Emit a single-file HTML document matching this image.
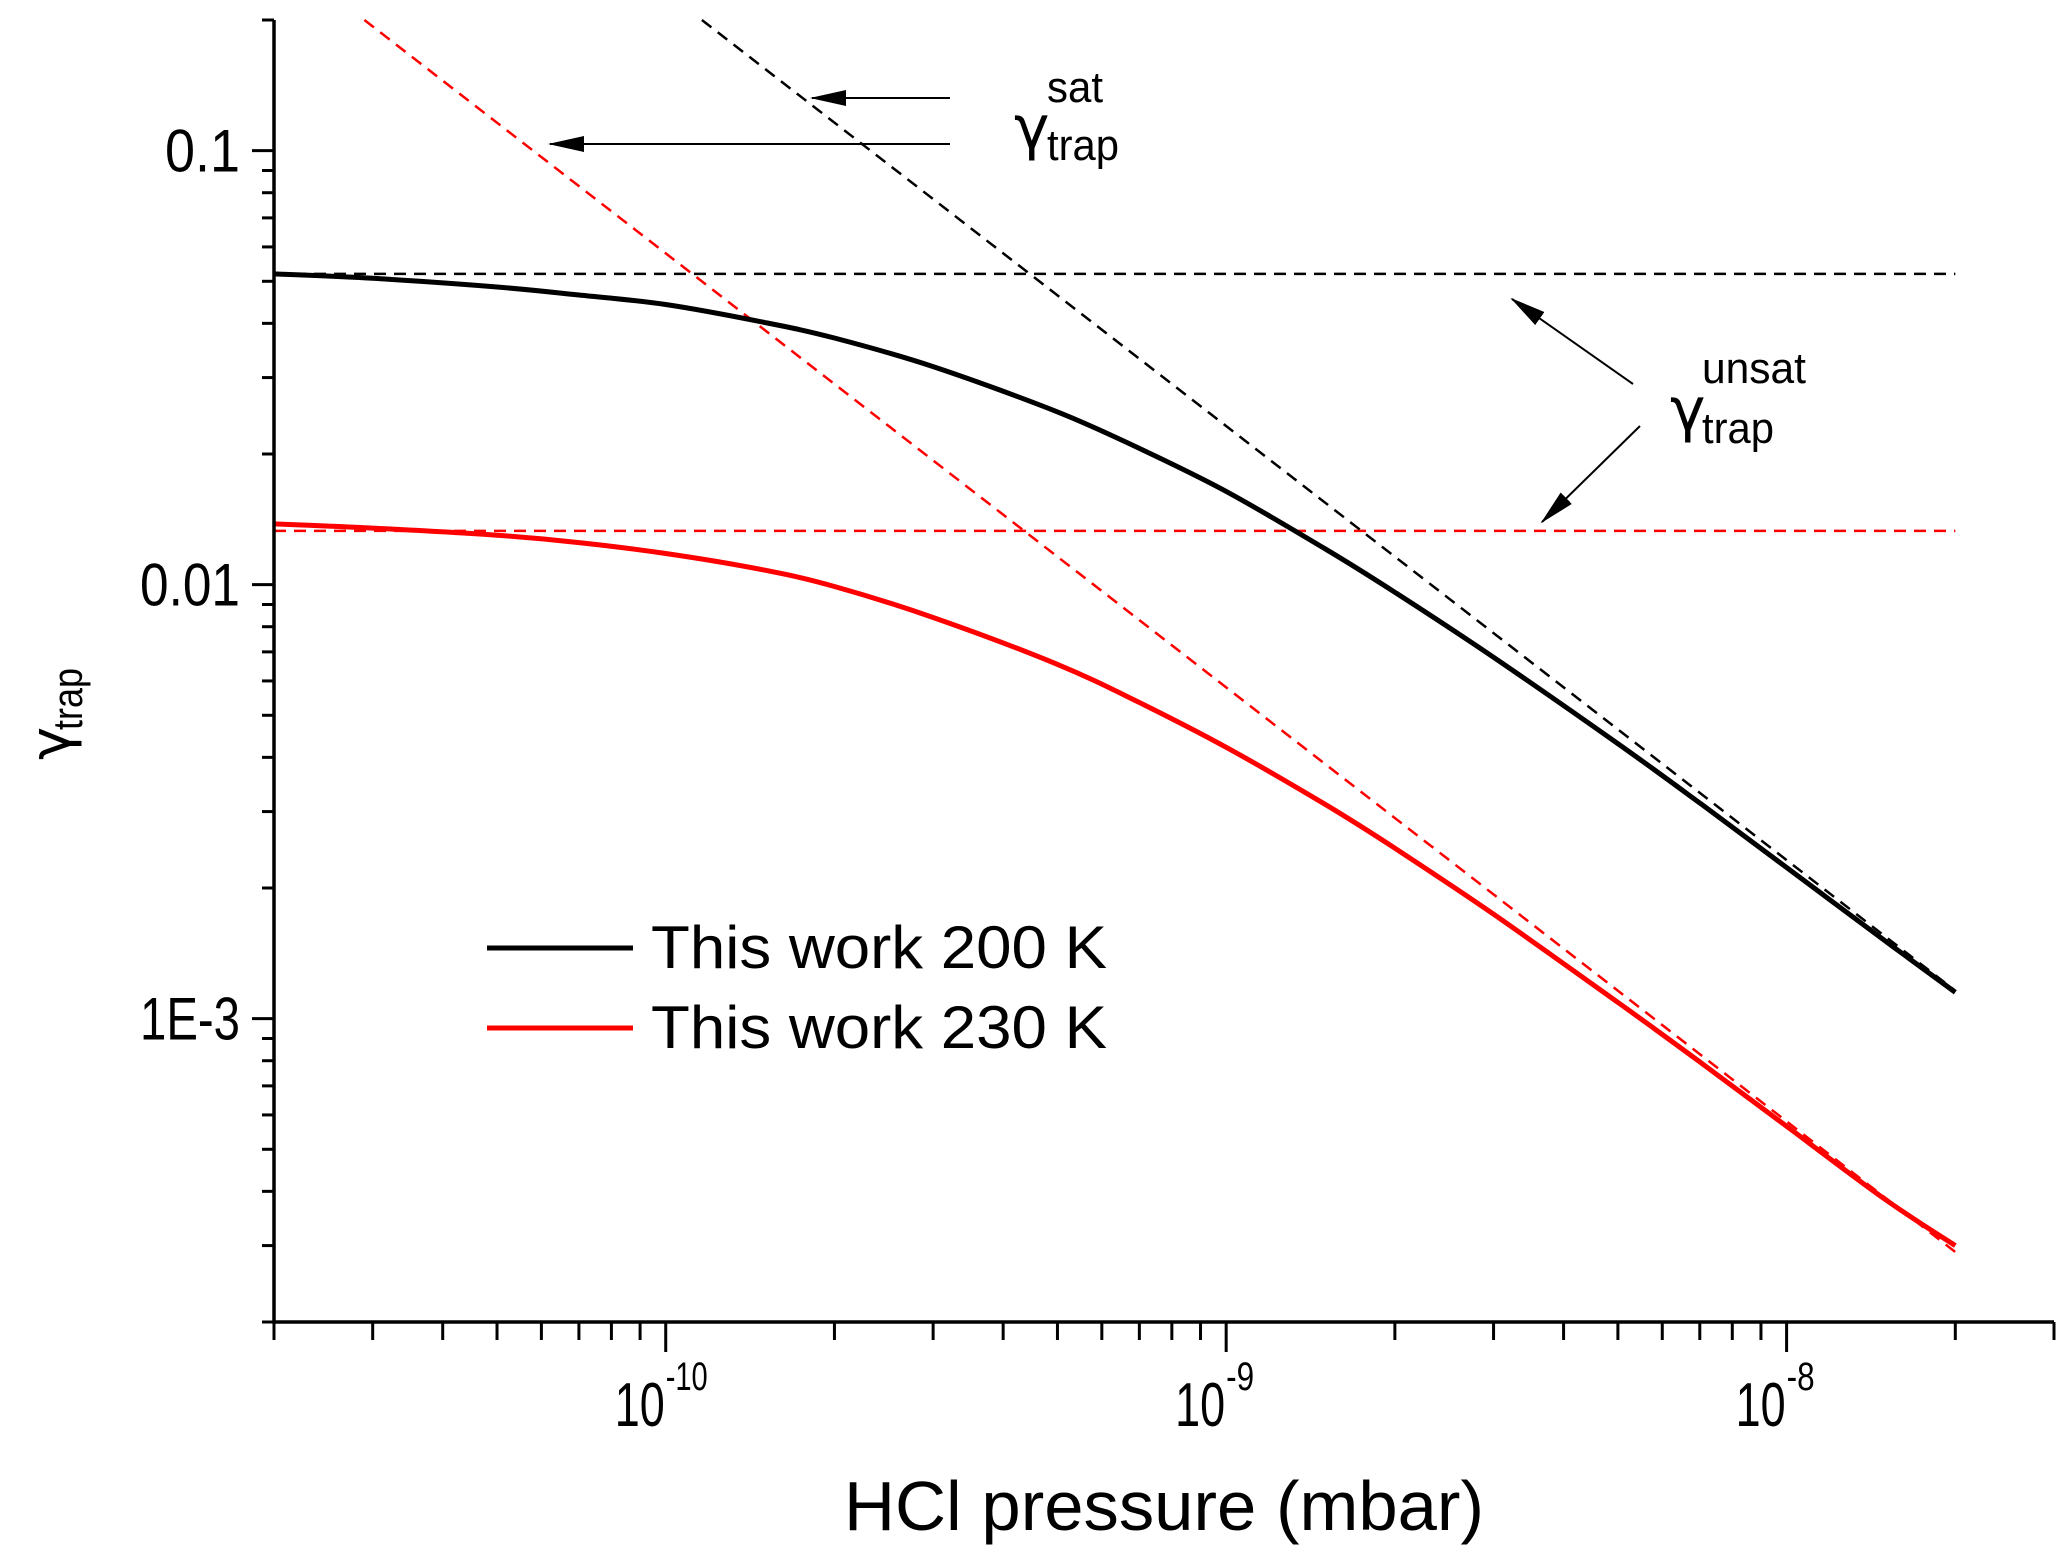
<!DOCTYPE html>
<html><head><meta charset="utf-8"><style>
html,body{margin:0;padding:0;background:#fff;}
svg{display:block;font-family:"Liberation Sans",Arial,sans-serif;}
</style></head><body>
<svg id="chart" width="2067" height="1564" viewBox="0 0 2067 1564" xmlns="http://www.w3.org/2000/svg">
<defs>
<marker id="ah2" markerWidth="36" markerHeight="16" refX="34" refY="8" orient="auto" markerUnits="userSpaceOnUse"><path d="M0,0 L36,8 L0,16 z" fill="#000"/></marker>
</defs>
<g id="plot"></g>
</svg>
<script>
const pressures = [2e-11,3e-11,5e-11,7e-11,1e-10,1.5e-10,2e-10,3e-10,5e-10,7e-10,1e-9,1.5e-9,2e-9,3e-9,5e-9,7e-9,1e-8,1.5e-8,2e-8];
const gamma200 = [0.0520,0.0508,0.0485,0.0465,0.0442,0.0402,0.0370,0.0318,0.0250,0.0206,0.0164,0.0121,0.00960,0.00680,0.00430,0.00314,0.00223,0.00151,0.00115];
const gamma230 = [0.0138,0.0135,0.0130,0.0125,0.0118,0.0108,0.00990,0.00840,0.00655,0.00535,0.00422,0.00312,0.00247,0.00174,0.00109,0.000795,0.000565,0.000383,0.000300];
const unsat200 = [0.052, 0.052];
const unsat230 = [0.0133, 0.0133];
const unsatX = [2e-11, 2e-8];
const satX200 = [1.16e-10, 2e-8];
const sat200 = [0.2, 0.00116];
const satX230 = [2.9e-11, 2e-8];
const sat230 = [0.2, 0.00029];
const xTickLabels = ["-10","-9","-8"];
const xTickValues = [1e-10,1e-9,1e-8];
const yTickLabels = ["0.1","0.01","1E-3"];
const yTickValues = [0.1,0.01,0.001];

const L=274,R=2054,T=20,B=1322;
const xMin=Math.log10(2e-11), xMax=Math.log10(3e-8), yMin=Math.log10(2e-4), yMax=Math.log10(0.2);
const X=v=>L+(Math.log10(v)-xMin)/(xMax-xMin)*(R-L);
const Y=v=>B-(Math.log10(v)-yMin)/(yMax-yMin)*(B-T);
const NS="http://www.w3.org/2000/svg";
const g=document.getElementById('plot');
function mk(tag,attrs,parent){const e=document.createElementNS(NS,tag);for(const k in attrs)e.setAttribute(k,attrs[k]);(parent||g).appendChild(e);return e;}

function path(xs,ys,stroke,w,dash,name,smooth){
  const P=xs.map((x,i)=>[X(x),Y(ys[i])]);
  let d='M'+P[0][0].toFixed(1)+','+P[0][1].toFixed(1);
  for(let i=0;i<P.length-1;i++){
    if(!smooth){d+='L'+P[i+1][0].toFixed(1)+','+P[i+1][1].toFixed(1);continue;}
    const p0=P[Math.max(0,i-1)],p1=P[i],p2=P[i+1],p3=P[Math.min(P.length-1,i+2)];
    const c1=[p1[0]+(p2[0]-p0[0])/6,p1[1]+(p2[1]-p0[1])/6];
    const c2=[p2[0]-(p3[0]-p1[0])/6,p2[1]-(p3[1]-p1[1])/6];
    d+='C'+c1.map(v=>v.toFixed(1)).join(',')+' '+c2.map(v=>v.toFixed(1)).join(',')+' '+p2.map(v=>v.toFixed(1)).join(',');
  }
  const p=mk('path',{d:d,fill:'none',stroke:stroke,'stroke-width':w,'stroke-linejoin':'round'});
  if(dash)p.setAttribute('stroke-dasharray',dash);
  
  
}
path(unsatX,unsat200,'#000',2.5,'12 8','unsat-200-dashed',false);
path(unsatX,unsat230,'#f00',2.5,'12 8','unsat-230-dashed',false);
path(satX200,sat200,'#000',2.5,'12 8','sat-200-dashed',false);
path(satX230,sat230,'#f00',2.5,'12 8','sat-230-dashed',false);
path(pressures,gamma200,'#000',5,null,'curve-200k',true);
path(pressures,gamma230,'#f00',5,null,'curve-230k',true);

const ax=mk('path',{d:`M${L},${T}L${L},${B}L${R},${B}`,fill:'none',stroke:'#000','stroke-width':3.5});


for(let e=-11;e<=-8;e++){for(let m=1;m<=9;m++){const v=m*Math.pow(10,e);if(v<2e-11*0.999||v>3e-8*1.001)continue;
  const x=X(v);const len=m===1?30:18;
  const t=mk('line',{x1:x,y1:B,x2:x,y2:B+len,stroke:'#000','stroke-width':3});
  
  }}
for(let e=-4;e<=-1;e++){for(let m=1;m<=9;m++){const v=m*Math.pow(10,e);if(v<2e-4*0.999||v>0.2*1.001)continue;
  const y=Y(v);const len=m===1?22:12;
  const t=mk('line',{x1:L-len,y1:y,x2:L,y2:y,stroke:'#000','stroke-width':3});
  
  }}
xTickValues.forEach((v,i)=>{
  const t=mk('text',{x:X(v)-1,y:1426,'font-size':62,'text-anchor':'end',textLength:50,lengthAdjust:'spacingAndGlyphs'});t.textContent='10';
  
  
  const s=mk('text',{x:X(v),y:1390,'font-size':40,'text-anchor':'start',textLength:xTickLabels[i].length*14,lengthAdjust:'spacingAndGlyphs'});s.textContent=xTickLabels[i];
  
  
});
yTickValues.forEach((v,i)=>{
  const t=mk('text',{x:240,y:Y(v)+21,'font-size':60,'text-anchor':'end',textLength:yTickLabels[i].length*25,lengthAdjust:'spacingAndGlyphs'});t.textContent=yTickLabels[i];
  
  
});
</script>
<svg style="position:absolute;left:0;top:0" width="2067" height="1564" xmlns="http://www.w3.org/2000/svg">
<g font-family="Liberation Sans, Arial, sans-serif">
<text x="1164" y="1530" font-size="70" text-anchor="middle" textLength="640" lengthAdjust="spacingAndGlyphs">HCl pressure (mbar)</text>
<g transform="translate(70,714) rotate(-90)">
<text x="-46" y="0" font-size="56" font-family="DejaVu Sans, sans-serif">γ</text><text x="-16" y="12" font-size="42" textLength="62" lengthAdjust="spacingAndGlyphs">trap</text>
</g>
<g>
<line x1="487" y1="948" x2="633" y2="948" stroke="#000" stroke-width="5"/>
<text x="651" y="968" font-size="60" textLength="456" lengthAdjust="spacingAndGlyphs">This work 200 K</text>
<line x1="487" y1="1028" x2="633" y2="1028" stroke="#f00" stroke-width="5"/>
<text x="651" y="1048" font-size="60" textLength="456" lengthAdjust="spacingAndGlyphs">This work 230 K</text>
</g>
<g>
<line x1="950" y1="98" x2="812" y2="98" stroke="#000" stroke-width="2" marker-end="url(#ah2)"/>
<line x1="950" y1="144" x2="550" y2="144" stroke="#000" stroke-width="2" marker-end="url(#ah2)"/>
<text x="1014" y="148" font-size="60" font-family="DejaVu Sans, sans-serif">γ</text>
<text x="1047" y="102" font-size="44" textLength="56" lengthAdjust="spacingAndGlyphs">sat</text>
<text x="1047" y="160" font-size="44" textLength="72" lengthAdjust="spacingAndGlyphs">trap</text>
</g>
<g>
<line x1="1633" y1="384" x2="1512" y2="299" stroke="#000" stroke-width="2" marker-end="url(#ah2)"/>
<line x1="1640" y1="426" x2="1542" y2="522" stroke="#000" stroke-width="2" marker-end="url(#ah2)"/>
<text x="1670" y="430" font-size="60" font-family="DejaVu Sans, sans-serif">γ</text>
<text x="1702" y="383" font-size="44" textLength="104" lengthAdjust="spacingAndGlyphs">unsat</text>
<text x="1702" y="443" font-size="44" textLength="72" lengthAdjust="spacingAndGlyphs">trap</text>
</g>
</g>
</svg>
</body></html>
